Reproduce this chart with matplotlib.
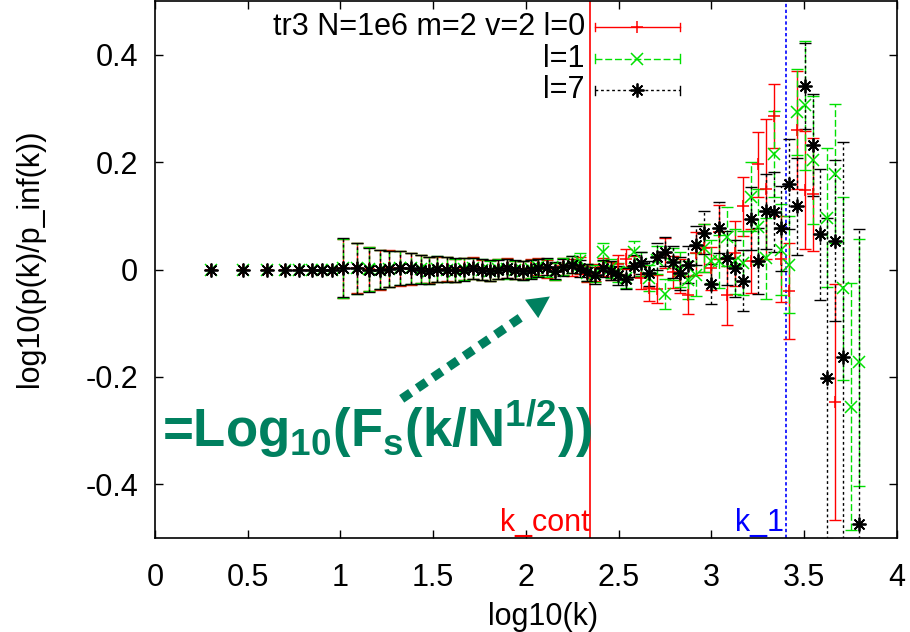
import numpy as np
import matplotlib
matplotlib.use('Agg')
import matplotlib.pyplot as plt
from matplotlib.patches import Polygon

plt.rcParams['font.family'] = ['Liberation Sans', 'DejaVu Sans']
plt.rcParams['font.size'] = 22
plt.rcParams['axes.unicode_minus'] = False
plt.rcParams['mathtext.fontset'] = 'custom'
plt.rcParams['mathtext.rm'] = 'Liberation Sans'
plt.rcParams['mathtext.bf'] = 'Liberation Sans:bold'

nan = np.nan

# x = log10(k)
log_k = [0.301, 0.477, 0.602, 0.699, 0.778, 0.845, 0.903, 0.954,
         1.015, 1.091, 1.155, 1.213, 1.263, 1.321, 1.378, 1.432, 1.479, 1.522,
         1.572, 1.617, 1.666, 1.712, 1.761, 1.806, 1.851, 1.896, 1.941, 1.982,
         2.025, 2.066, 2.111, 2.156, 2.201, 2.246, 2.291, 2.330,
         2.372, 2.415, 2.457, 2.498, 2.539, 2.580, 2.622, 2.664, 2.706, 2.748,
         2.790, 2.832, 2.874, 2.916, 2.958, 3.000, 3.042, 3.085, 3.127, 3.168,
         3.211, 3.252, 3.294, 3.337, 3.375, 3.418, 3.460, 3.504, 3.545, 3.585,
         3.625, 3.667, 3.711, 3.750, 3.793]

# l=0
y_l0 = [0, 0, 0, 0, 0, 0, 0, 0,
        0.002, 0.003, 0.001, -0.001, 0.002, 0.002, 0.001, 0.001, -0.001, 0.000,
        0.001, -0.002, 0.001, 0.003, -0.001, -0.002, 0.001, 0.003, -0.001, -0.001,
        0.002, 0.005, 0.001, -0.004, 0.006, 0.004, 0.007, -0.008,
        -0.006, 0.005, -0.003, 0.010, 0.020, 0.006, -0.015, -0.035, -0.036, 0.030,
        -0.004, -0.012, -0.047, 0.030, 0.040, 0.002, 0.070, -0.048, 0.030, 0.118,
        0.016, 0.196, 0.150, 0.286, 0.020, -0.040, 0.260, 0.148, 0.140, nan,
        nan, -0.247, nan, nan, nan]
e_l0 = [nan, nan, nan, nan, nan, nan, nan, nan,
        0.055, 0.047, 0.041, 0.037, 0.034, 0.032, 0.029, 0.027, 0.025, 0.024,
        0.023, 0.022, 0.021, 0.020, 0.019, 0.019, 0.018, 0.018, 0.017, 0.017,
        0.017, 0.016, 0.016, 0.016, 0.016, 0.016, 0.016, 0.016,
        0.016, 0.017, 0.017, 0.018, 0.019, 0.020, 0.022, 0.024, 0.026, 0.028,
        0.030, 0.032, 0.035, 0.040, 0.045, 0.040, 0.050, 0.055, 0.060, 0.055,
        0.060, 0.060, 0.130, 0.060, 0.080, 0.090, 0.110, 0.110, 0.105, nan,
        nan, 0.220, nan, nan, nan]

# l=1
y_l1 = [0, 0, 0, 0, 0, 0, 0, 0,
        0.002, 0.002, 0.001, 0.000, 0.001, 0.003, 0.002, 0.001, -0.002, 0.001,
        0.000, -0.002, 0.001, 0.002, 0.000, -0.003, 0.001, 0.001, -0.001, -0.002,
        0.001, 0.004, 0.003, -0.003, 0.005, 0.010, 0.015, -0.006,
        -0.008, 0.033, 0.002, -0.005, -0.015, 0.033, 0.010, -0.016, 0.018, -0.046,
        0.010, 0.000, -0.020, -0.010, 0.040, 0.015, 0.015, 0.061, 0.015, 0.012,
        0.136, 0.080, 0.021, 0.216, 0.037, 0.009, 0.294, 0.306, 0.204, nan,
        0.097, 0.179, -0.035, -0.256, -0.173]
e_l1 = [nan, nan, nan, nan, nan, nan, nan, nan,
        0.055, 0.047, 0.041, 0.037, 0.034, 0.032, 0.029, 0.027, 0.025, 0.024,
        0.023, 0.022, 0.021, 0.020, 0.019, 0.019, 0.018, 0.018, 0.017, 0.017,
        0.017, 0.016, 0.016, 0.016, 0.016, 0.016, 0.016, 0.016,
        0.016, 0.017, 0.017, 0.018, 0.019, 0.020, 0.022, 0.024, 0.026, 0.028,
        0.030, 0.032, 0.035, 0.040, 0.045, 0.040, 0.050, 0.055, 0.060, 0.060,
        0.065, 0.070, 0.075, 0.080, 0.085, 0.090, 0.080, 0.120, 0.120, nan,
        0.130, 0.130, 0.170, 0.230, 0.230]

# l=7
y_l7 = [0, 0, 0, 0, 0, 0, 0, 0,
        0.003, 0.002, 0.000, 0.000, 0.001, 0.003, 0.002, 0.000, -0.002, 0.001,
        0.000, -0.001, 0.000, 0.002, 0.000, -0.002, 0.000, 0.002, 0.000, -0.002,
        0.000, 0.003, 0.005, -0.002, 0.004, 0.009, 0.002, -0.005,
        -0.011, 0.002, -0.002, -0.011, -0.017, 0.007, 0.012, -0.007, 0.024, 0.033,
        0.014, -0.007, 0.009, 0.045, 0.069, -0.027, 0.078, 0.022, 0.002, -0.021,
        0.095, 0.016, 0.109, 0.107, 0.077, 0.159, 0.118, 0.342, 0.232, 0.066,
        -0.203, 0.054, -0.163, nan, -0.475]
e_l7 = [nan, nan, nan, nan, nan, nan, nan, nan,
        0.055, 0.047, 0.041, 0.037, 0.034, 0.032, 0.029, 0.027, 0.025, 0.024,
        0.023, 0.022, 0.021, 0.020, 0.019, 0.019, 0.018, 0.018, 0.017, 0.017,
        0.017, 0.016, 0.016, 0.016, 0.016, 0.016, 0.016, 0.016,
        0.016, 0.016, 0.017, 0.018, 0.019, 0.020, 0.021, 0.023, 0.025, 0.027,
        0.029, 0.031, 0.034, 0.037, 0.040, 0.037, 0.047, 0.050, 0.053, 0.057,
        0.058, 0.062, 0.070, 0.075, 0.079, 0.084, 0.090, 0.080, 0.095, 0.122,
        0.300, 0.150, 0.400, nan, 0.550]

labels = ['tr3 N=1e6 m=2 v=2 l=0', 'l=1', 'l=7']
k_cont = 2.345
k_1 = 3.40

teal = '#00805f'

fig = plt.figure(figsize=(9.1, 6.32), dpi=100)
ax = fig.add_axes([0.1703, 0.149, 0.8154, 0.849])

styles = [
    dict(color='#ff0000', marker='+', ls='-', ms=9, mew=1.1),
    dict(color='#00e000', marker='x', ls=(0, (5, 2)), ms=8, mew=1.1),
    dict(color='#000000', marker=(8, 2, 0), ls=(0, (2, 2)), ms=10, mew=1.3),
]
data = [(y_l0, e_l0), (y_l1, e_l1), (y_l7, e_l7)]

for (y, e), st in zip(data, styles):
    eb = ax.errorbar(log_k, y, yerr=e, fmt='none', ecolor=st['color'],
                     elinewidth=1, capsize=4, capthick=1, zorder=2)
    for lc in eb[2]:
        lc.set_linestyle(st['ls'])
    ax.plot(log_k, y, ls='none', marker=st['marker'], color=st['color'],
            ms=st['ms'], mew=st['mew'], zorder=3)

# legend, gnuplot style
for i, (lab, st) in enumerate(zip(labels, styles)):
    yy = 0.952 - i * 0.059
    ax.text(0.5795, yy, lab, transform=ax.transAxes, ha='right', va='center',
            fontsize=22)
    ax.plot([0.593, 0.7075], [yy, yy], transform=ax.transAxes,
            color=st['color'], ls=st['ls'], lw=1, clip_on=False)
    for xe in (0.593, 0.7075):
        ax.plot([xe, xe], [yy - 0.008, yy + 0.008], transform=ax.transAxes,
                color=st['color'], lw=1)
    ax.plot([0.65], [yy], transform=ax.transAxes, ls='none',
            marker=st['marker'], color=st['color'], ms=st['ms'], mew=st['mew'])

# reference lines
ax.axvline(k_cont, color='#ff0000', lw=1.2, zorder=1)
ax.axvline(k_1, color='#0000ff', lw=1.2, ls=(0, (2, 1.5)), zorder=1)
ax.text(k_cont, -0.472, 'k_cont', color='#ff0000', ha='right', va='center',
        fontsize=22)
ax.text(k_1 - 0.01, -0.472, 'k_1', color='#0000ff', ha='right', va='center',
        fontsize=22)

# annotation
ax.text(0.04, -0.331,
        r'=Log$_{\mathbf{10}}$(F$_{\mathbf{s}}$(k/N$^{\mathbf{1/2}}$))',
        color=teal, fontsize=38, fontweight='bold', ha='left', va='baseline')
ax.plot([1.33, 1.99], [-0.241, -0.085], color=teal, lw=6.5,
        dashes=(1.2, 0.9), solid_capstyle='butt', dash_capstyle='butt')
ax.add_patch(Polygon([(1.995, -0.0563), (2.129, -0.0502), (2.066, -0.0905)],
                     closed=True, color=teal, lw=0))

ax.set_xlim(0, 4)
ax.set_ylim(-0.5, 0.5)
ax.set_xticks([0, 0.5, 1, 1.5, 2, 2.5, 3, 3.5, 4])
ax.set_xticklabels(['0', '0.5', '1', '1.5', '2', '2.5', '3', '3.5', '4'])
ax.set_yticks([-0.4, -0.2, 0, 0.2, 0.4])
ax.set_yticklabels(['-0.4', '-0.2', '0', '0.2', '0.4'])
ax.tick_params(direction='in', length=6, width=1, top=True, right=True,
               labelsize=22)
ax.tick_params(axis='x', pad=18)
ax.tick_params(axis='y', pad=12)
for sp in ax.spines.values():
    sp.set_linewidth(1.2)

fig.text(543 / 910, 1 - 617 / 632, 'log10(k)', ha='center', va='center',
         fontsize=22)
fig.text(30 / 910, 1 - 258 / 632, 'log10(p(k)/p_inf(k))', ha='center',
         va='center', rotation=90, fontsize=22)

fig.savefig('out.png', dpi=100)
